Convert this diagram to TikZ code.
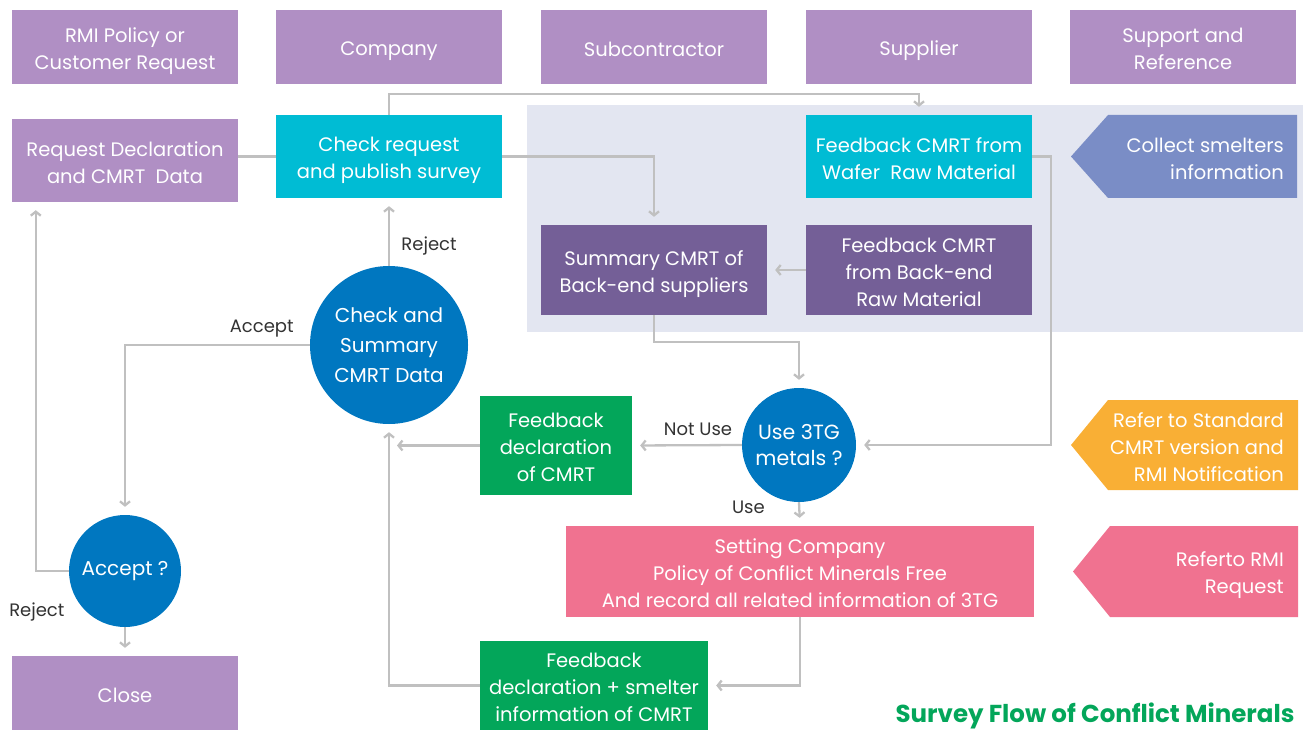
\documentclass[tikz,border=0pt]{standalone}
\usepackage{fontspec}
\setmainfont{Poppins}
\usetikzlibrary{arrows.meta}
\definecolor{lilac}{RGB}{176,143,196}
\definecolor{aqua}{RGB}{0,188,212}
\definecolor{plum}{RGB}{116,95,151}
\definecolor{steel}{RGB}{122,141,198}
\definecolor{amber}{RGB}{249,175,53}
\definecolor{rose}{RGB}{240,114,144}
\definecolor{leaf}{RGB}{3,166,90}
\definecolor{ocean}{RGB}{0,119,192}
\definecolor{panel}{RGB}{227,230,241}
\definecolor{wire}{RGB}{192,192,192}
\definecolor{ink}{RGB}{51,51,51}
\begin{document}
\begin{tikzpicture}[x=1pt, y=-1pt,
  box/.style={rectangle, minimum width=226, minimum height=83, inner sep=2pt,
    align=center, text=white, font=\fontsize{19.5}{27}\selectfont,
    execute at begin node={\setbox0=\hbox\bgroup},
    execute at end node={\egroup\ht0=\dimexpr\ht0+4pt\relax\dp0=\dimexpr\dp0-4pt\relax\box0}},
  disc/.style={circle, fill=ocean, inner sep=0pt, align=center, text=white,
    font=\fontsize{20}{30}\selectfont},
  lab/.style={text=ink, font=\fontsize{18}{20}\selectfont},
  link/.style={draw=wire, line width=2.3pt},
  flow/.style={link, shorten >=8pt, -{Straight Barb[length=4pt,width=10pt]}}]
\useasboundingbox (0,0) rectangle (1303,730);

% Background of the supplier area
\fill[panel] (527,105) rectangle (1303,332);

% Header row
\node[box, fill=lilac, minimum height=74] (hpolicy) at (125,47) {RMI Policy or\\Customer Request};
\node[box, fill=lilac, minimum height=74] (hcompany) at (389,47) {Company};
\node[box, fill=lilac, minimum height=74] (hsub) at (654,47) {Subcontractor};
\node[box, fill=lilac, minimum height=74] (hsupplier) at (919,47) {Supplier};
\node[box, fill=lilac, minimum height=74] (hsupport) at (1183,47) {Support and\\Reference};

% Boxes
\node[box, fill=lilac] (req) at (125,160.5) {Request Declaration\\and CMRT~ Data};
\node[box, fill=aqua] (chk) at (389,156.5) {Check request\\and publish survey};
\node[box, fill=aqua] (wafer) at (919,156.5) {Feedback CMRT from\\Wafer~ Raw Material};
\node[box, fill=plum, minimum height=90] (summ) at (654,270) {Summary CMRT of\\Back-end suppliers};
\node[box, fill=plum, minimum height=90] (backend) at (919,270) {Feedback CMRT\\from Back-end\\Raw Material};
\node[box, fill=leaf, minimum width=152, minimum height=99] (fbdecl) at (556,445.5) {Feedback\\declaration\\of CMRT};
\node[box, fill=rose, minimum width=468, minimum height=91] (setting) at (800,571.5) {Setting Company\\Policy of Conflict Minerals Free\\And record all related information of 3TG};
\node[box, fill=leaf, minimum width=228, minimum height=89] (fbsmelt) at (594,685.5) {Feedback\\declaration + smelter\\information of CMRT};
\node[box, fill=lilac, minimum height=74] (close) at (125,693) {Close};

% Decisions
\node[disc, minimum size=158] (chksum) at (389,345) {Check and\\Summary\\CMRT Data};
\node[disc, minimum size=114, font=\fontsize{20.5}{26}\selectfont] (use) at (799,445) {Use 3TG\\metals ?};
\node[disc, minimum size=112] (acc) at (125,571) {Accept ?};

% Reference arrows
\fill[steel] (1071,156.5) -- (1108,115) -- (1297,115) -- (1297,198) -- (1108,198) -- cycle;
\node[box, anchor=east, align=right, minimum width=0] (collect) at (1286,156.5) {Collect smelters\\information};
\fill[amber] (1071,445) -- (1108,400) -- (1298,400) -- (1298,490) -- (1108,490) -- cycle;
\node[box, anchor=east, align=right, minimum width=0] (refer) at (1286,445) {Refer to Standard\\CMRT version and\\RMI Notification};
\fill[rose] (1073,571.5) -- (1110,526) -- (1298,526) -- (1298,617) -- (1110,617) -- cycle;
\node[box, anchor=east, align=right, minimum width=0] (rmi) at (1286,571.5) {Referto RMI\\Request};

% Connectors
\draw[link] (req.east |- chk.west) -- (chk.west);
\draw[flow] (chk.north) -- ++(0,-21) -| (wafer.north);
\draw[flow] (chk.east) -| (summ.north);
\draw[flow] (backend.west) -- (summ.east);
\draw[flow] (summ.south) -- ++(0,27) -| (use.north);
\draw[flow] (wafer.east) -- ++(19,0) |- (use.east);
\draw[flow] (use.west) -- node[lab, above=5pt, pos=0.4] {Not Use} (fbdecl.east);
\draw[flow] (fbdecl.west) -- (chksum.south |- fbdecl.west);
\draw[flow] (use.south) -- node[lab, left=30pt, pos=0.2] {Use} (setting.north);
\draw[flow] (setting.south) |- (fbsmelt.east);
\draw[flow] (fbsmelt.west) -| (chksum.south);
\draw[flow] (chksum.north) -- node[lab, right=8pt, pos=0.3] {Reject} (chk.south);
\draw[flow] (chksum.west) -| node[lab, above=3pt, pos=0.13] {Accept} (acc.north);
\draw[flow] (acc.west) -| ([xshift=24pt]req.south west);
\draw[flow] (acc.south) -- (close.north);
\node[lab, anchor=east] (rejB) at (68,612) {Reject};

% Title
\node[anchor=east, text=leaf, font=\fontsize{24.5}{28}\selectfont\bfseries] (title) at (1298,716) {Survey Flow of Conflict Minerals};
\end{tikzpicture}
\end{document}
